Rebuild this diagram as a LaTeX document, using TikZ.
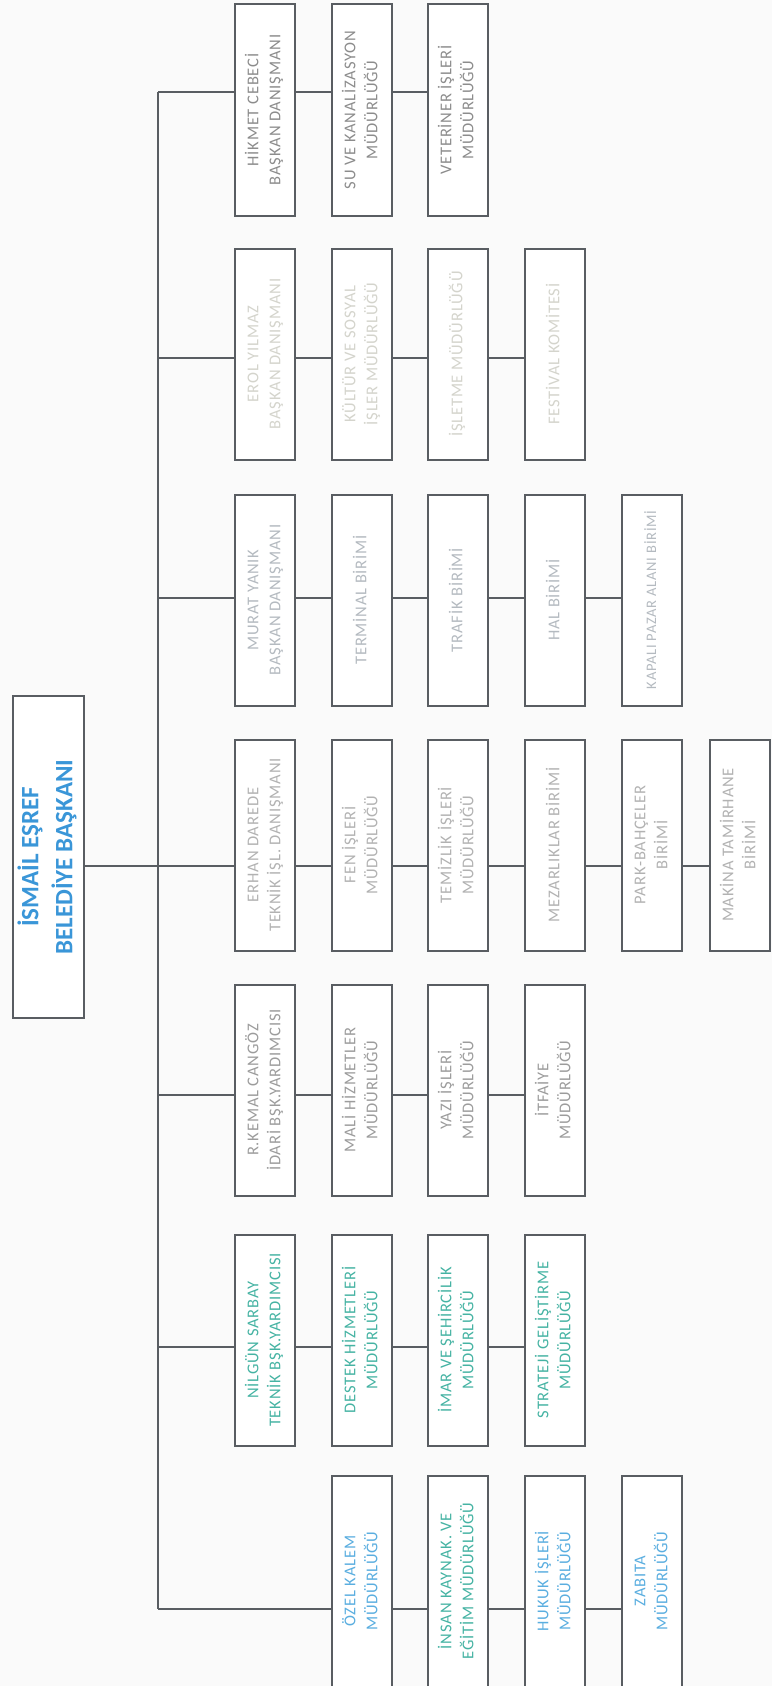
\documentclass[tikz,border=0pt]{standalone}
\usepackage{fontspec}
\usepackage{graphicx}
\setmainfont{Carlito}
\newfontfamily\rowfont[LetterSpace=5]{Carlito}
\usetikzlibrary{calc}
\newcommand\vtext[1]{\rotatebox{90}{\begin{tabular}{@{}c@{}}#1\end{tabular}}}
\definecolor{bordercol}{HTML}{595D62}
\definecolor{topblue}{HTML}{3A96D8}
\definecolor{rowa}{HTML}{8C8C8C}
\definecolor{rowb}{HTML}{D4D4CC}
\definecolor{rowc}{HTML}{B4BAC0}
\definecolor{rowd}{HTML}{B2B2B2}
\definecolor{rowe}{HTML}{9C9C9C}
\definecolor{rowf}{HTML}{45B3A3}
\definecolor{rowg}{HTML}{5AAEE0}
\tikzset{
  box/.style={draw=bordercol, line width=2pt, fill=white, minimum width=60pt, minimum height=211pt, inner sep=0pt, font=\rowfont\fontsize{16.5}{22}\selectfont},
  smalltext/.style={font=\rowfont\fontsize{14.5}{20}\selectfont},
  topbox/.style={draw=bordercol, line width=2pt, fill=white, minimum width=71pt, minimum height=322pt, inner sep=0pt, font=\fontsize{25}{34}\selectfont\bfseries, text=topblue},
  conn/.style={draw=bordercol, line width=2pt}
}
\begin{document}
\begin{tikzpicture}[x=1pt,y=-1pt]
\fill[white!98!black] (0,0) rectangle (772,1686);
\useasboundingbox (0,0) rectangle (772,1686);
% top node
\node[topbox] (top) at (48.5,857) {\vtext{İSMAİL EŞREF\\BELEDİYE BAŞKANI}};
% row 1
\node[box, text=rowa] (r1c1) at (265,110) {\vtext{HİKMET CEBECİ\\BAŞKAN DANIŞMANI}};
\node[box, text=rowa] (r1c2) at (362,110) {\vtext{SU VE KANALİZASYON\\MÜDÜRLÜĞÜ}};
\node[box, text=rowa] (r1c3) at (458,110) {\vtext{VETERİNER İŞLERİ\\MÜDÜRLÜĞÜ}};
% row 2
\node[box, text=rowb] (r2c1) at (265,354) {\vtext{EROL YILMAZ\\BAŞKAN DANIŞMANI}};
\node[box, text=rowb] (r2c2) at (362,354) {\vtext{KÜLTÜR VE SOSYAL\\İŞLER MÜDÜRLÜĞÜ}};
\node[box, text=rowb] (r2c3) at (458,354) {\vtext{İŞLETME MÜDÜRLÜĞÜ}};
\node[box, text=rowb] (r2c4) at (555,354) {\vtext{FESTİVAL KOMİTESİ}};
% row 3
\node[box, text=rowc] (r3c1) at (265,600) {\vtext{MURAT YANIK\\BAŞKAN DANIŞMANI}};
\node[box, text=rowc] (r3c2) at (362,600) {\vtext{TERMİNAL BİRİMİ}};
\node[box, text=rowc] (r3c3) at (458,600) {\vtext{TRAFİK BİRİMİ}};
\node[box, text=rowc] (r3c4) at (555,600) {\vtext{HAL BİRİMİ}};
\node[box, text=rowc, smalltext] (r3c5) at (652,600) {\vtext{KAPALI PAZAR ALANI BİRİMİ}};
% row 4
\node[box, text=rowd] (r4c1) at (265,845) {\vtext{ERHAN DAREDE\\TEKNİK İŞL. DANIŞMANI}};
\node[box, text=rowd] (r4c2) at (362,845) {\vtext{FEN İŞLERİ\\MÜDÜRLÜĞÜ}};
\node[box, text=rowd] (r4c3) at (458,845) {\vtext{TEMİZLİK İŞLERİ\\MÜDÜRLÜĞÜ}};
\node[box, text=rowd] (r4c4) at (555,845) {\vtext{MEZARLIKLAR BİRİMİ}};
\node[box, text=rowd] (r4c5) at (652,845) {\vtext{PARK-BAHÇELER\\BİRİMİ}};
\node[box, text=rowd] (r4c6) at (740,845) {\vtext{MAKİNA TAMİRHANE\\BİRİMİ}};
% row 5
\node[box, text=rowe] (r5c1) at (265,1090) {\vtext{R.KEMAL CANGÖZ\\İDARİ BŞK.YARDIMCISI}};
\node[box, text=rowe] (r5c2) at (362,1090) {\vtext{MALİ HİZMETLER\\MÜDÜRLÜĞÜ}};
\node[box, text=rowe] (r5c3) at (458,1090) {\vtext{YAZI İŞLERİ\\MÜDÜRLÜĞÜ}};
\node[box, text=rowe] (r5c4) at (555,1090) {\vtext{İTFAİYE\\MÜDÜRLÜĞÜ}};
% row 6
\node[box, text=rowf] (r6c1) at (265,1340) {\vtext{NİLGÜN SARBAY\\TEKNİK BŞK.YARDIMCISI}};
\node[box, text=rowf] (r6c2) at (362,1340) {\vtext{DESTEK HİZMETLERİ\\MÜDÜRLÜĞÜ}};
\node[box, text=rowf] (r6c3) at (458,1340) {\vtext{İMAR VE ŞEHİRCİLİK\\MÜDÜRLÜĞÜ}};
\node[box, text=rowf] (r6c4) at (555,1340) {\vtext{STRATEJİ GELİŞTİRME\\MÜDÜRLÜĞÜ}};
% row 7
\node[box, text=rowg] (r7c2) at (362,1581) {\vtext{ÖZEL KALEM\\MÜDÜRLÜĞÜ}};
\node[box, text=rowf] (r7c3) at (458,1581) {\vtext{İNSAN KAYNAK. VE\\EĞİTİM MÜDÜRLÜĞÜ}};
\node[box, text=rowg] (r7c4) at (555,1581) {\vtext{HUKUK İŞLERİ\\MÜDÜRLÜĞÜ}};
\node[box, text=rowg] (r7c5) at (652,1581) {\vtext{ZABITA\\MÜDÜRLÜĞÜ}};
% trunk coordinates
\coordinate (t1) at (158,92);
\coordinate (t2) at (158,358);
\coordinate (t3) at (158,598);
\coordinate (t4) at (158,866);
\coordinate (t5) at (158,1095);
\coordinate (t6) at (158,1347);
\coordinate (t7) at (158,1609);
\draw[conn] (t1) -- (t7);
\draw[conn] (top.east |- t4) -- (t4);
% row connectors
\draw[conn] (t1) -- (r1c1.west |- t1);
\draw[conn] (r1c1.east |- t1) -- (r1c2.west |- t1);
\draw[conn] (r1c2.east |- t1) -- (r1c3.west |- t1);
\draw[conn] (t2) -- (r2c1.west |- t2);
\draw[conn] (r2c1.east |- t2) -- (r2c2.west |- t2);
\draw[conn] (r2c2.east |- t2) -- (r2c3.west |- t2);
\draw[conn] (r2c3.east |- t2) -- (r2c4.west |- t2);
\draw[conn] (t3) -- (r3c1.west |- t3);
\draw[conn] (r3c1.east |- t3) -- (r3c2.west |- t3);
\draw[conn] (r3c2.east |- t3) -- (r3c3.west |- t3);
\draw[conn] (r3c3.east |- t3) -- (r3c4.west |- t3);
\draw[conn] (r3c4.east |- t3) -- (r3c5.west |- t3);
\draw[conn] (t4) -- (r4c1.west |- t4);
\draw[conn] (r4c1.east |- t4) -- (r4c2.west |- t4);
\draw[conn] (r4c2.east |- t4) -- (r4c3.west |- t4);
\draw[conn] (r4c3.east |- t4) -- (r4c4.west |- t4);
\draw[conn] (r4c4.east |- t4) -- (r4c5.west |- t4);
\draw[conn] (r4c5.east |- t4) -- (r4c6.west |- t4);
\draw[conn] (t5) -- (r5c1.west |- t5);
\draw[conn] (r5c1.east |- t5) -- (r5c2.west |- t5);
\draw[conn] (r5c2.east |- t5) -- (r5c3.west |- t5);
\draw[conn] (r5c3.east |- t5) -- (r5c4.west |- t5);
\draw[conn] (t6) -- (r6c1.west |- t6);
\draw[conn] (r6c1.east |- t6) -- (r6c2.west |- t6);
\draw[conn] (r6c2.east |- t6) -- (r6c3.west |- t6);
\draw[conn] (r6c3.east |- t6) -- (r6c4.west |- t6);
\draw[conn] (t7) -- (r7c2.west |- t7);
\draw[conn] (r7c2.east |- t7) -- (r7c3.west |- t7);
\draw[conn] (r7c3.east |- t7) -- (r7c4.west |- t7);
\draw[conn] (r7c4.east |- t7) -- (r7c5.west |- t7);
\end{tikzpicture}
\end{document}
